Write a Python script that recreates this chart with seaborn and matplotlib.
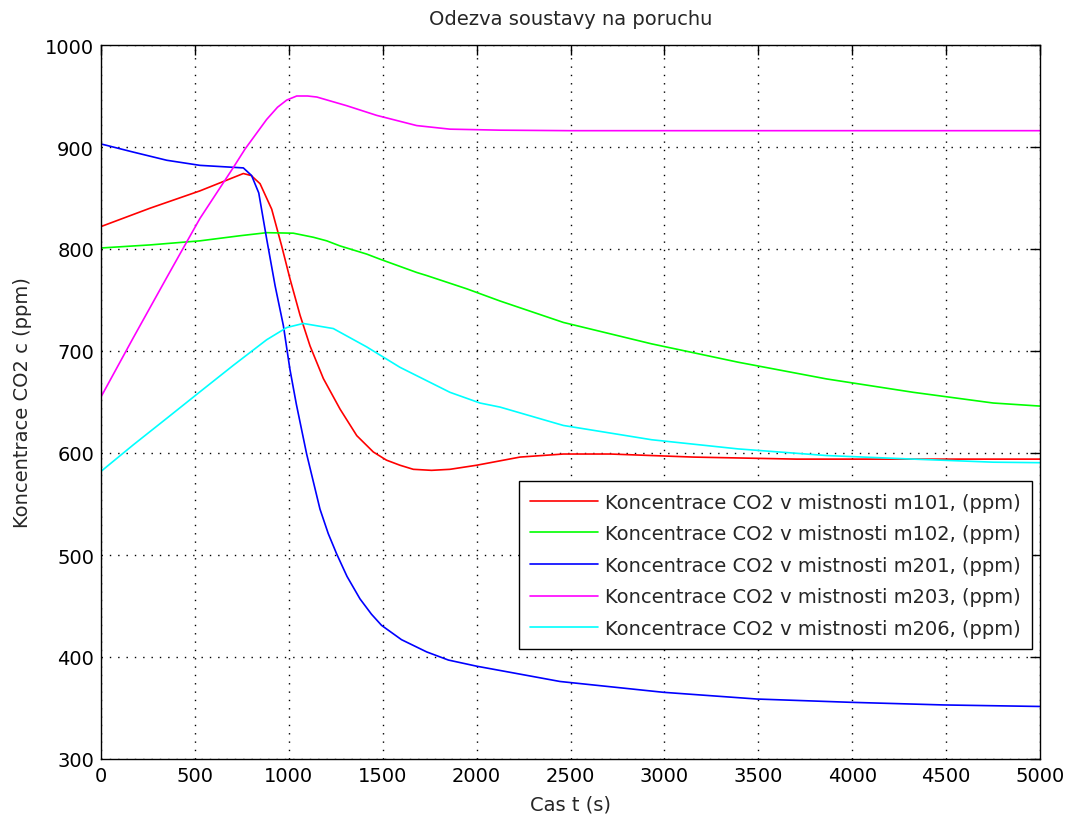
import matplotlib
matplotlib.use("Agg")
import matplotlib.pyplot as plt
import seaborn as sns
import pandas as pd

# ---- data ----
t_m101 = [0, 261, 527, 758, 800, 847, 909, 962, 1006, 1060, 1113, 1184, 1273, 1362, 1450, 1520, 1592, 1663, 1760, 1858, 2000, 2231, 2462, 2712, 3154, 3704, 4300, 5000]
c_m101 = [822, 840, 857, 874, 872, 864, 839, 803, 771, 735, 705, 673, 643, 617, 601, 593, 588, 584, 583, 584, 588, 596, 599, 599, 596, 594, 594, 594]

t_m102 = [0, 261, 527, 740, 882, 1024, 1131, 1202, 1273, 1415, 1486, 1681, 1734, 1947, 2125, 2462, 2932, 3393, 3864, 4325, 4751, 5000]
c_m102 = [801, 804, 808, 813, 816, 815.5, 811.5, 808, 803, 795, 790, 777, 774, 761, 749, 728, 707, 689, 672.6, 659.5, 649, 646]

t_m201 = [0, 172, 350, 527, 758, 802, 840, 882, 927, 971, 1006, 1040, 1095, 1166, 1210, 1255, 1310, 1379, 1440, 1494, 1600, 1734, 1850, 2000, 2178, 2444, 2994, 3492, 3988, 4485, 5000]
c_m201 = [903, 895, 887, 882, 879.5, 872, 855, 810, 764, 725, 682, 648, 599, 545, 521, 501, 479, 457, 442, 431, 417, 405, 397, 391, 385, 376, 365.4, 358.8, 355.6, 353, 351.5]

t_m203 = [0, 172, 350, 420, 527, 705, 767, 882, 940, 989, 1042, 1100, 1149, 1308, 1468, 1681, 1858, 2125, 2500, 5000]
c_m203 = [655, 713, 772, 795, 830, 880, 898, 927, 939, 946, 950, 950, 949, 940.5, 931, 921, 917.5, 916.5, 916, 916]

t_m206 = [0, 172, 350, 527, 705, 882, 989, 1077, 1237, 1415, 1592, 1858, 2018, 2125, 2462, 2932, 3393, 3864, 4325, 4751, 5000]
c_m206 = [582, 608, 634, 660, 686, 711, 723, 727, 722, 704, 684, 659.5, 649, 645, 627, 613, 604, 597.5, 594, 591, 590.5]

labels = ["Koncentrace CO2 v mistnosti m101, (ppm)",
          "Koncentrace CO2 v mistnosti m102, (ppm)",
          "Koncentrace CO2 v mistnosti m201, (ppm)",
          "Koncentrace CO2 v mistnosti m203, (ppm)",
          "Koncentrace CO2 v mistnosti m206, (ppm)"]
colors = ["#ff0000", "#00ff00", "#0000ff", "#ff00ff", "#00ffff"]

x_ticks = [0, 500, 1000, 1500, 2000, 2500, 3000, 3500, 4000, 4500, 5000]
y_ticks = [300, 400, 500, 600, 700, 800, 900, 1000]

series = [(t_m101, c_m101), (t_m102, c_m102), (t_m201, c_m201), (t_m203, c_m203), (t_m206, c_m206)]
frames = []
for (t, c), lab in zip(series, labels):
    frames.append(pd.DataFrame({"t": t, "c": c, "room": lab}))
df = pd.concat(frames, ignore_index=True)

sns.set_style("white")
plt.rcParams['font.family'] = ['DejaVu Sans']

fig = plt.figure(figsize=(10.67, 8.2), dpi=100)
ax = fig.add_axes([101/1067, 60/820, 939/1067, 714/820])

sns.lineplot(data=df, x="t", y="c", hue="room", palette=colors, hue_order=labels,
             ax=ax, linewidth=1.2, estimator=None, sort=False)

ax.set_xlim(0, 5000)
ax.set_ylim(300, 1000)
ax.set_xticks(x_ticks)
ax.set_yticks(y_ticks)
ax.tick_params(direction="in", top=True, right=True, length=7, width=1,
               labelsize=14, colors="black", pad=5)
ax.grid(True, linestyle=(0, (1, 5)), color="black", linewidth=1)
for s in ax.spines.values():
    s.set_color("black")
    s.set_linewidth(1)
    s.set_visible(True)

ax.set_title("Odezva soustavy na poruchu", fontsize=14, pad=15)
ax.set_xlabel("Cas t (s)", fontsize=14, labelpad=7)
ax.set_ylabel("Koncentrace CO2 c (ppm)", fontsize=14, labelpad=9)

leg = ax.legend(loc="upper right", bbox_to_anchor=(0.9915, 0.389), fontsize=14,
                frameon=True, fancybox=False, edgecolor="black", framealpha=1,
                handlelength=3.5, handletextpad=0.35, borderpad=0.58,
                labelspacing=0.65, borderaxespad=0)
leg.get_frame().set_linewidth(1)

fig.savefig("out.png", dpi=100, facecolor="white")
